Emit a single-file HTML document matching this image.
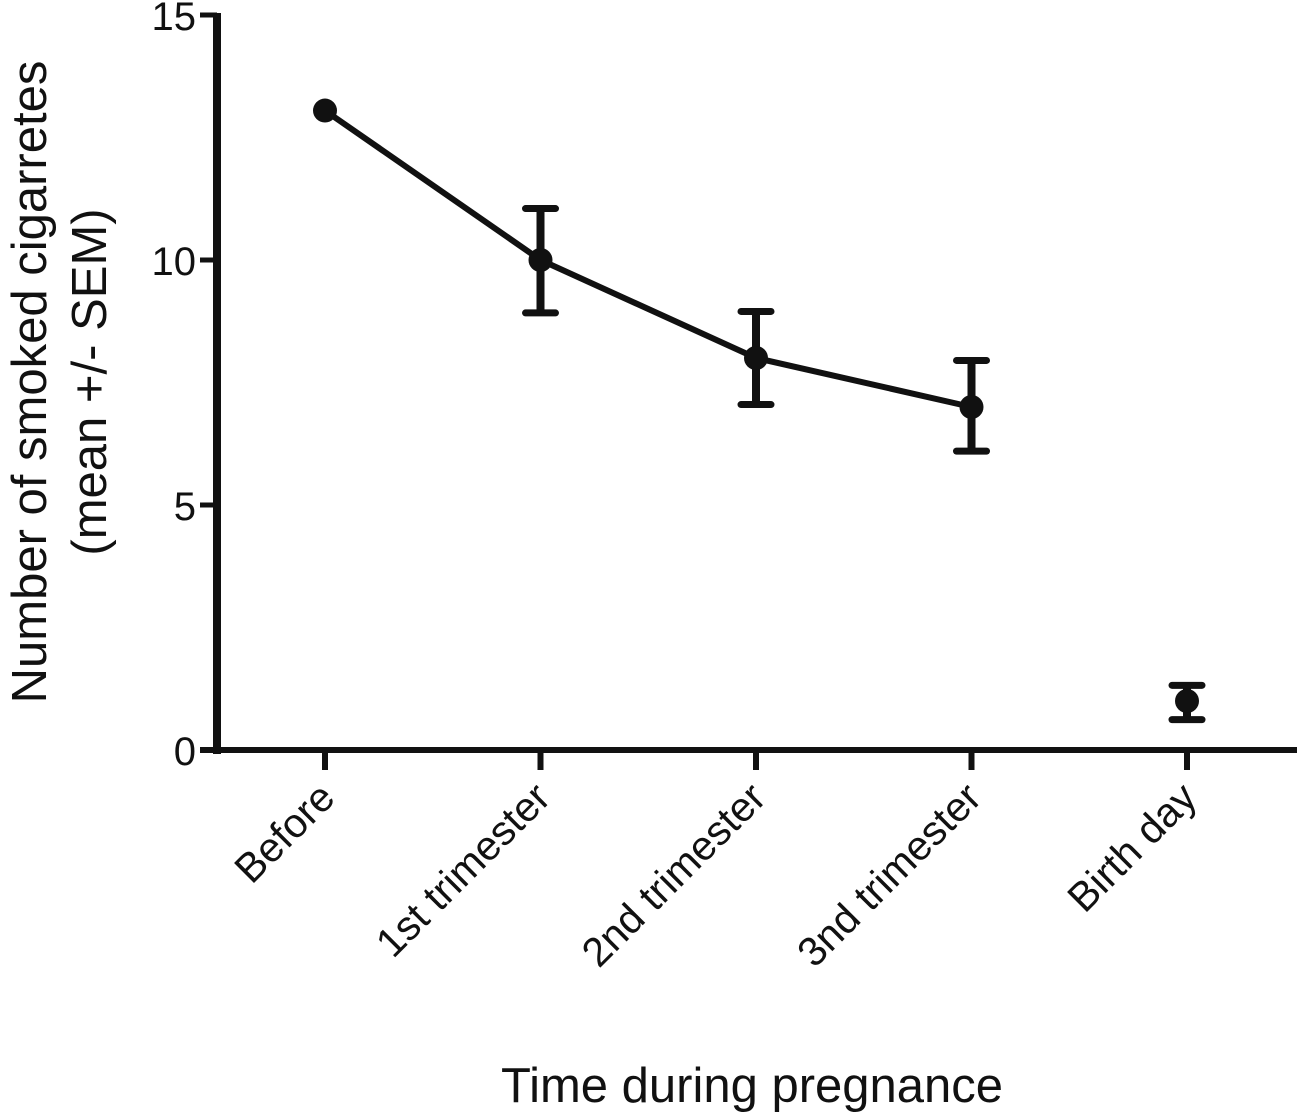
<!DOCTYPE html>
<html><head><meta charset="utf-8"><style>
html,body{margin:0;padding:0;background:#fff;}
svg{display:block;font-family:"Liberation Sans",Arial,sans-serif;}
</style></head><body>
<svg id="chart" width="1305" height="1116" viewBox="0 0 1305 1116"></svg>
<script>
const categories=["Before","1st trimester","2nd trimester","3nd trimester","Birth day"];
const means=[13.05,10.0,8.0,7.0,1.0];
const errLow=[13.05,8.92,7.05,6.1,0.62];
const errHigh=[13.05,11.05,8.95,7.95,1.32];
const connected=[true,true,true,true,false];
const yTicks=[0,5,10,15];

const NS="http://www.w3.org/2000/svg";
const svg=document.getElementById('chart');
const x0=325, dx=215.5;
function xS(i){return x0+i*dx;}
function yS(v){return 750-v*49;}
function mk(tag,attrs,parent){const e=document.createElementNS(NS,tag);for(const k in attrs)e.setAttribute(k,attrs[k]);(parent||svg).appendChild(e);return e;}

let ya=mk('line',{x1:217,y1:yS(15)-2,x2:217,y2:754,stroke:'#111','stroke-width':8});


let xa=mk('line',{x1:200,y1:750,x2:1297,y2:750,stroke:'#111','stroke-width':6});



yTicks.forEach(t=>{
  let tk=mk('line',{x1:200,y1:yS(t),x2:217,y2:yS(t),stroke:'#111','stroke-width':5});
  
  
  let tl=mk('text',{x:196,y:yS(t)+15,'text-anchor':'end','font-size':40,fill:'#111'});
  tl.textContent=t;
  
  
});

categories.forEach((c,i)=>{
  let tk=mk('line',{x1:xS(i),y1:750,x2:xS(i),y2:770,stroke:'#111','stroke-width':6});
  
  
  let tx=xS(i)+12, ty=800;
  let tl=mk('text',{x:tx,y:ty,'text-anchor':'end','font-size':41,fill:'#111',transform:`rotate(-45 ${tx} ${ty})`});
  tl.textContent=c;
  
  
});

let pts=[];
means.forEach((m,i)=>{if(connected[i])pts.push(xS(i)+','+yS(m));});
let pl=mk('polyline',{points:pts.join(' '),fill:'none',stroke:'#111','stroke-width':6,'stroke-linejoin':'round'});



means.forEach((m,i)=>{
  const x=xS(i);
  if(errHigh[i]!==errLow[i]){
    let g=mk('g',{});
    
    
    mk('line',{x1:x,y1:yS(errHigh[i]),x2:x,y2:yS(errLow[i]),stroke:'#111','stroke-width':8},g);
    mk('line',{x1:x-15,y1:yS(errHigh[i]),x2:x+15,y2:yS(errHigh[i]),stroke:'#111','stroke-width':7,'stroke-linecap':'round'},g);
    mk('line',{x1:x-15,y1:yS(errLow[i]),x2:x+15,y2:yS(errLow[i]),stroke:'#111','stroke-width':7,'stroke-linecap':'round'},g);
  }
  let c=mk('circle',{cx:x,cy:yS(m),r:12,fill:'#111'});
  
  
});

let yt=mk('text',{x:0,y:0,'text-anchor':'middle','font-size':49,fill:'#111',transform:'translate(46 382) rotate(-90)'});


let t1=mk('tspan',{x:0,dy:0},yt);t1.textContent='Number of smoked cigarretes';
let t2=mk('tspan',{x:0,dy:60},yt);t2.textContent='(mean +/- SEM)';

let xt=mk('text',{x:752,y:1102,'text-anchor':'middle','font-size':49,fill:'#111'});
xt.textContent='Time during pregnance';


</script>
</body></html>
